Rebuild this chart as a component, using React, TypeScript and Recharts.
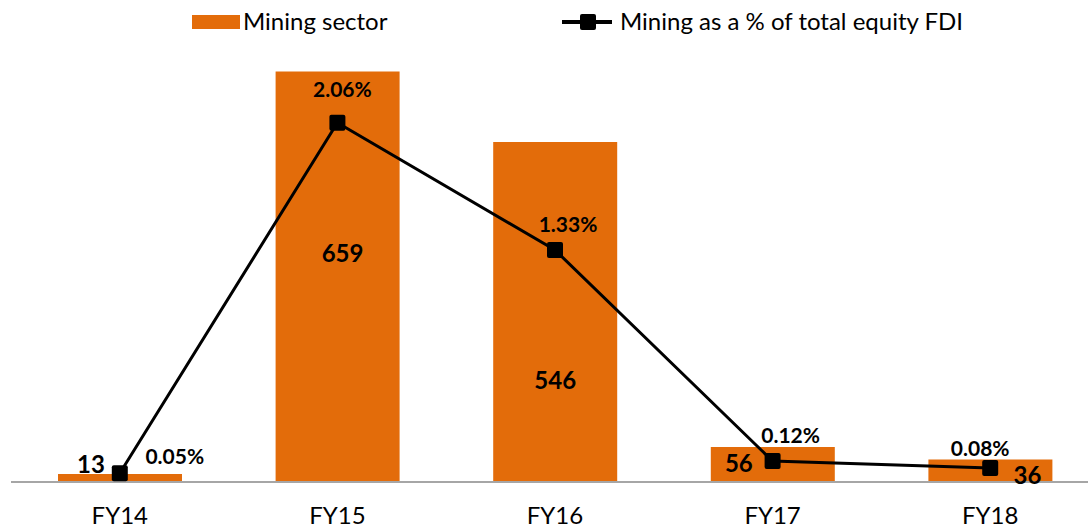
import React from "react";
import { Bar, ComposedChart, LabelList, Line, XAxis, YAxis } from "recharts";

const years = ["FY14", "FY15", "FY16", "FY17", "FY18"];
const miningSector = [13, 659, 546, 56, 36];
const miningShare = [0.05, 2.06, 1.33, 0.12, 0.08];

// label nudges (dx, dy) copied from the reference layout
const barLabelNudge = [
  [-29, -10],
  [5, 181],
  [0, 238],
  [-34, 15],
  [37, 15],
];
const lineLabelNudge = [
  [55, -18],
  [5, -34],
  [13, -27],
  [18, -27],
  [-10, -21],
];

const ORANGE = "#E36C0A";
const FONT = "Lato, 'Open Sans', sans-serif";

const data = years.map((year, i) => ({
  year,
  sector: miningSector[i],
  share: miningShare[i],
}));

function BarLabel(props: any) {
  const { x, y, width, index, value } = props;
  const [dx, dy] = barLabelNudge[index];
  return (
    <text
      x={x + width / 2 + dx}
      y={y + dy}
      textAnchor="middle"
      dominantBaseline="central"
      fontFamily={FONT}
      fontWeight={700}
      fontSize={24}
      fill="#000"
    >
      {value}
    </text>
  );
}

function LineLabel(props: any) {
  const { x, y, index, value } = props;
  const [dx, dy] = lineLabelNudge[index];
  return (
    <text
      x={x + dx}
      y={y + dy}
      textAnchor="middle"
      dominantBaseline="central"
      fontFamily={FONT}
      fontWeight={700}
      fontSize={21}
      fill="#000"
    >
      {Number(value).toFixed(2)}%
    </text>
  );
}

function SquareDot(props: any) {
  const { cx, cy } = props;
  if (cx == null || cy == null) return null;
  return <rect x={cx - 8} y={cy - 8} width={16} height={16} rx={2} fill="#000" />;
}

export default function App() {
  return (
    <div
      style={{
        position: "absolute",
        top: 0,
        left: 0,
        width: 1088,
        height: 532,
        overflow: "hidden",
        background: "#fff",
        fontFamily: FONT,
      }}
    >
      <div style={{ position: "absolute", top: 0, left: 0, width: 1088, height: 44, fontSize: 24, color: "#000" }}>
        <div style={{ position: "absolute", left: 192, top: 15, width: 48, height: 14, background: ORANGE }} />
        <div style={{ position: "absolute", left: 243, top: 6, lineHeight: "30px" }}>Mining sector</div>
        <div style={{ position: "absolute", left: 562, top: 20, width: 50, height: 4, background: "#000" }} />
        <div style={{ position: "absolute", left: 580, top: 14, width: 16, height: 16, borderRadius: 2, background: "#000" }} />
        <div style={{ position: "absolute", left: 620, top: 6, lineHeight: "30px" }}>Mining as a % of total equity FDI</div>
      </div>
      <ComposedChart
        width={1100}
        height={532}
        data={data}
        margin={{ top: 46, right: 1, left: 11, bottom: 0 }}
        style={{ position: "absolute", top: 0, left: 0 }}
      >
        <XAxis
          dataKey="year"
          height={50}
          tickLine={false}
          tickSize={0}
          tickMargin={25}
          axisLine={{ stroke: "#A6A6A6", strokeWidth: 2 }}
          tick={{ fill: "#000", fontSize: 24, fontFamily: FONT }}
        />
        <YAxis yAxisId="left" hide domain={[0, 700]} />
        <YAxis yAxisId="right" hide orientation="right" domain={[0, 2.5]} />
        <Bar yAxisId="left" dataKey="sector" fill={ORANGE} barSize={124} isAnimationActive={false}>
          <LabelList dataKey="sector" content={<BarLabel />} />
        </Bar>
        <Line
          yAxisId="right"
          dataKey="share"
          stroke="#000"
          strokeWidth={3}
          dot={<SquareDot />}
          activeDot={false}
          isAnimationActive={false}
        >
          <LabelList dataKey="share" content={<LineLabel />} />
        </Line>
      </ComposedChart>
    </div>
  );
}
